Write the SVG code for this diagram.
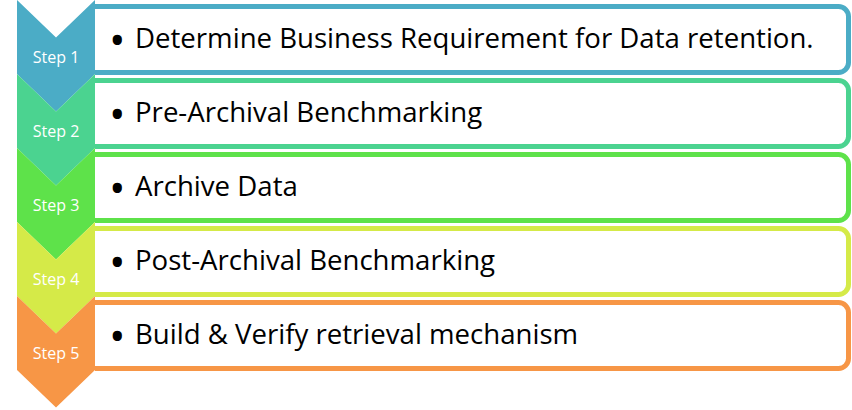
<svg xmlns="http://www.w3.org/2000/svg" width="852" height="410" viewBox="0 0 852 410">
<style>
  .box { fill: #ffffff; stroke-width: 5; }
  .step { font-family: "Open Sans", "Liberation Sans", sans-serif; font-size: 16px; fill: #ffffff; text-anchor: middle; }
  .txt { font-family: "Open Sans", "Liberation Sans", sans-serif; font-size: 27.6px; fill: #000000; }
  .bul { font-family: "Open Sans", "Liberation Sans", sans-serif; font-size: 44px; fill: #000000; text-anchor: middle; }
  .c1 { fill: #4bacc6; } .s1 { stroke: #4bacc6; }
  .c2 { fill: #4bd390; } .s2 { stroke: #4bd390; }
  .c3 { fill: #5ee24a; } .s3 { stroke: #5ee24a; }
  .c4 { fill: #d5ea48; } .s4 { stroke: #d5ea48; }
  .c5 { fill: #f79646; } .s5 { stroke: #f79646; }
</style>
<rect width="852" height="410" fill="#ffffff"/>
<g id="step1">
  <path class="box s1" d="M95,6.5 H838.5 A10,10 0 0 1 848.5,16.5 V62.5 A10,10 0 0 1 838.5,72.5 H95"/>
  <polygon class="c1" points="17,0 56,37.5 95,0 95,74 56,111.5 17,74"/>
  <text class="step" x="56" y="63">Step 1</text>
  <text class="bul" x="117.3" y="56">•</text>
  <text class="txt" x="135" y="48">Determine Business Requirement for Data retention.</text>
</g>
<g id="step2">
  <path class="box s2" d="M95,80.5 H838.5 A10,10 0 0 1 848.5,90.5 V136.5 A10,10 0 0 1 838.5,146.5 H95"/>
  <polygon class="c2" points="17,74 56,111.5 95,74 95,148 56,185.5 17,148"/>
  <text class="step" x="56" y="137">Step 2</text>
  <text class="bul" x="117.3" y="130">•</text>
  <text class="txt" x="135" y="122">Pre-Archival Benchmarking</text>
</g>
<g id="step3">
  <path class="box s3" d="M95,154.5 H838.5 A10,10 0 0 1 848.5,164.5 V210.5 A10,10 0 0 1 838.5,220.5 H95"/>
  <polygon class="c3" points="17,148 56,185.5 95,148 95,222 56,259.5 17,222"/>
  <text class="step" x="56" y="211">Step 3</text>
  <text class="bul" x="117.3" y="204">•</text>
  <text class="txt" x="135" y="196">Archive Data</text>
</g>
<g id="step4">
  <path class="box s4" d="M95,228.5 H838.5 A10,10 0 0 1 848.5,238.5 V284.5 A10,10 0 0 1 838.5,294.5 H95"/>
  <polygon class="c4" points="17,222 56,259.5 95,222 95,296 56,333.5 17,296"/>
  <text class="step" x="56" y="285">Step 4</text>
  <text class="bul" x="117.3" y="278">•</text>
  <text class="txt" x="135" y="270">Post-Archival Benchmarking</text>
</g>
<g id="step5">
  <path class="box s5" d="M95,302.5 H838.5 A10,10 0 0 1 848.5,312.5 V358.5 A10,10 0 0 1 838.5,368.5 H95"/>
  <polygon class="c5" points="17,296 56,333.5 95,296 95,370 56,407.5 17,370"/>
  <text class="step" x="56" y="359">Step 5</text>
  <text class="bul" x="117.3" y="352">•</text>
  <text class="txt" x="135" y="344">Build &amp; Verify retrieval mechanism</text>
</g>
<g id="connectors"/>
</svg>
